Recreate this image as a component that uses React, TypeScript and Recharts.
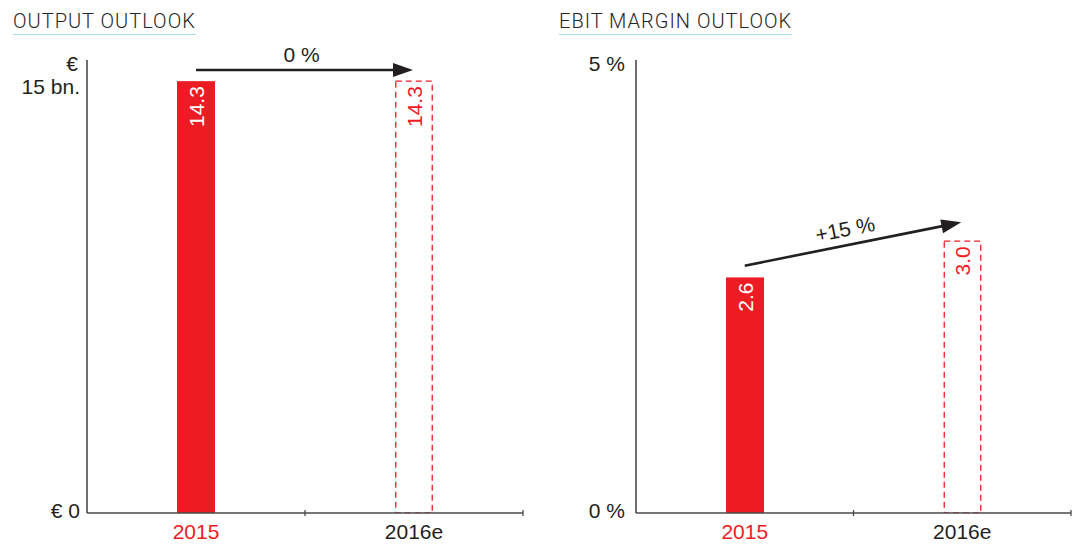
import React from 'react';
import { BarChart, Bar, XAxis, YAxis, ReferenceLine } from 'recharts';

// Categories and values
const years = ['2015', '2016e'];
const outputValues = [14.3, 14.3]; // € bn.
const marginValues = [2.6, 3.0]; // %
const outputTicks = [0, 15];
const marginTicks = [0, 5];

// Change arrows: heights (in axis units) at the start and end bar
const outputArrowLevels = [14.67, 14.67];
const outputArrowLabel = '0 %';
const marginArrowLevels = [2.73, 3.21];
const marginArrowLabel = '+15 %';

const RED = '#ed1c24';
const INK = '#231f20';
const AXIS = '#4a4a4a';
const TICK_FONT = '"Liberation Sans", Arial, sans-serif';
const TICK_SIZE = 21;

type Row = { year: string; value: number; estimate: boolean };

const toRows = (values: number[]): Row[] =>
  years.map((year, i) => ({ year, value: values[i], estimate: i === years.length - 1 }));

const BarShape = (p: any) => {
  const { x, y, width, height, payload } = p;
  const est = payload.estimate;
  const cx = x + width / 2;
  return (
    <g>
      {est ? (
        <rect
          x={x + 0.75}
          y={y}
          width={width - 1.5}
          height={height}
          fill="none"
          stroke={RED}
          strokeWidth={1.3}
          strokeDasharray="6 4"
        />
      ) : (
        <rect x={x} y={y} width={width} height={height} fill={RED} />
      )}
      <text
        transform={`translate(${cx},${y + 5}) rotate(-90)`}
        textAnchor="end"
        dominantBaseline="central"
        fontFamily={TICK_FONT}
        fontSize={TICK_SIZE}
        fill={est ? RED : '#ffffff'}
      >
        {payload.value.toFixed(1)}
      </text>
    </g>
  );
};

const XTick = (p: any) => {
  const { x, y, payload } = p;
  return (
    <text
      x={x}
      y={y + 10}
      textAnchor="middle"
      dominantBaseline="central"
      fontFamily={TICK_FONT}
      fontSize={TICK_SIZE}
      fill={payload.value === '2015' ? RED : INK}
    >
      {payload.value}
    </text>
  );
};

const BandTick = (p: any) => {
  const x = p.x1;
  const yb = Math.max(p.y1, p.y2);
  return <line x1={x} x2={x} y1={yb - 3} y2={yb + 3} stroke={AXIS} strokeWidth={1.3} />;
};

const makeArrow = (label: string, rotateText: boolean) => (p: any) => {
  const { x1, y1, x2, y2 } = p;
  const dx = x2 - x1;
  const dy = y2 - y1;
  const len = Math.sqrt(dx * dx + dy * dy);
  const ux = dx / len;
  const uy = dy / len;
  const tipX = x2 - ux * 1;
  const tipY = y2 - uy * 1;
  const headLen = 20;
  const headHalf = 7;
  const bx = tipX - ux * headLen;
  const by = tipY - uy * headLen;
  const nx = -uy;
  const ny = ux;
  const mx = (x1 + tipX) / 2 - (rotateText ? 8 : 3);
  const my = (y1 + tipY) / 2;
  const ang = (Math.atan2(dy, dx) * 180) / Math.PI;
  return (
    <g>
      <line x1={x1} y1={y1} x2={bx + ux * 2} y2={by + uy * 2} stroke={INK} strokeWidth={2.6} />
      <polygon
        points={`${tipX},${tipY} ${bx + nx * headHalf},${by + ny * headHalf} ${bx - nx * headHalf},${by - ny * headHalf}`}
        fill={INK}
      />
      <text
        transform={`translate(${mx},${my - 15}) rotate(${rotateText ? ang : 0})`}
        textAnchor="middle"
        dominantBaseline="central"
        fontFamily={TICK_FONT}
        fontSize={TICK_SIZE}
        fill={INK}
      >
        {label}
      </text>
    </g>
  );
};

const OutputYTick = (p: any) => {
  const { x, y, payload } = p;
  if (payload.value === 0) {
    return (
      <text x={x} y={y - 3} textAnchor="end" dominantBaseline="central" fontFamily={TICK_FONT} fontSize={TICK_SIZE} fill={INK}>
        € 0
      </text>
    );
  }
  return (
    <g>
      <text x={x - 2} y={y + 3} textAnchor="end" dominantBaseline="central" fontFamily={TICK_FONT} fontSize={TICK_SIZE} fill={INK}>
        €
      </text>
      <text x={x} y={y + 26} textAnchor="end" dominantBaseline="central" fontFamily={TICK_FONT} fontSize={TICK_SIZE} fill={INK}>
        15 bn.
      </text>
    </g>
  );
};

const MarginYTick = (p: any) => {
  const { x, y, payload } = p;
  return (
    <text
      x={x - 4}
      y={payload.value === 0 ? y - 3 : y + 3}
      textAnchor="end"
      dominantBaseline="central"
      fontFamily={TICK_FONT}
      fontSize={TICK_SIZE}
      fill={INK}
    >
      {payload.value} %
    </text>
  );
};

const Title = ({ text, left }: { text: string; left: number }) => (
  <div
    style={{
      position: 'absolute',
      left,
      top: 9,
      fontFamily: 'Roboto, "DejaVu Sans", sans-serif',
      fontWeight: 300,
      fontSize: 20,
      letterSpacing: 1.0,
      color: '#262626',
      lineHeight: '25px',
      borderBottom: '1.5px solid #a9d9ef',
      whiteSpace: 'nowrap',
    }}
  >
    {text}
  </div>
);

type PanelProps = {
  rows: Row[];
  ticks: number[];
  domainMax: number;
  yWidth: number;
  width: number;
  rightMargin: number;
  tick: (p: any) => React.ReactElement;
  arrowLevels: number[];
  arrowLabel: string;
  rotateLabel: boolean;
};

const Panel = (props: PanelProps) => (
  <BarChart
    width={props.width}
    height={549}
    data={props.rows}
    margin={{ top: 60, right: props.rightMargin, left: 0, bottom: 0 }}
    barSize={38}
  >
    <XAxis
      dataKey="year"
      height={36}
      axisLine={{ stroke: AXIS, strokeWidth: 1.6 }}
      tickLine={false}
      tick={<XTick />}
      interval={0}
    />
    <YAxis
      type="number"
      domain={[0, props.domainMax]}
      ticks={props.ticks}
      width={props.yWidth}
      axisLine={{ stroke: AXIS, strokeWidth: 1.6 }}
      tickLine={false}
      tickSize={0}
      tickMargin={7}
      tick={props.tick}
      allowDataOverflow
    />
    <Bar dataKey="value" isAnimationActive={false} shape={<BarShape />} />
    <ReferenceLine x={years[1]} position="start" shape={BandTick} ifOverflow="visible" />
    <ReferenceLine x={years[1]} position="end" shape={BandTick} ifOverflow="visible" />
    <ReferenceLine
      segment={[
        { x: years[0], y: props.arrowLevels[0] },
        { x: years[1], y: props.arrowLevels[1] },
      ]}
      ifOverflow="visible"
      shape={makeArrow(props.arrowLabel, props.rotateLabel)}
    />
  </BarChart>
);

export default function App() {
  return (
    <div style={{ position: 'fixed', left: 0, top: 0, width: 1079, height: 549, background: '#fff' }}>
      <Title text="OUTPUT OUTLOOK" left={13} />
      <Title text="EBIT MARGIN OUTLOOK" left={559} />
      <div style={{ position: 'absolute', left: 0, top: 0 }}>
        <Panel
          rows={toRows(outputValues)}
          ticks={outputTicks}
          domainMax={15}
          yWidth={87}
          width={540}
          rightMargin={17}
          tick={OutputYTick}
          arrowLevels={outputArrowLevels}
          arrowLabel={outputArrowLabel}
          rotateLabel={false}
        />
      </div>
      <div style={{ position: 'absolute', left: 540, top: 0 }}>
        <Panel
          rows={toRows(marginValues)}
          ticks={marginTicks}
          domainMax={5}
          yWidth={96}
          width={539}
          rightMargin={8}
          tick={MarginYTick}
          arrowLevels={marginArrowLevels}
          arrowLabel={marginArrowLabel}
          rotateLabel={true}
        />
      </div>
    </div>
  );
}
